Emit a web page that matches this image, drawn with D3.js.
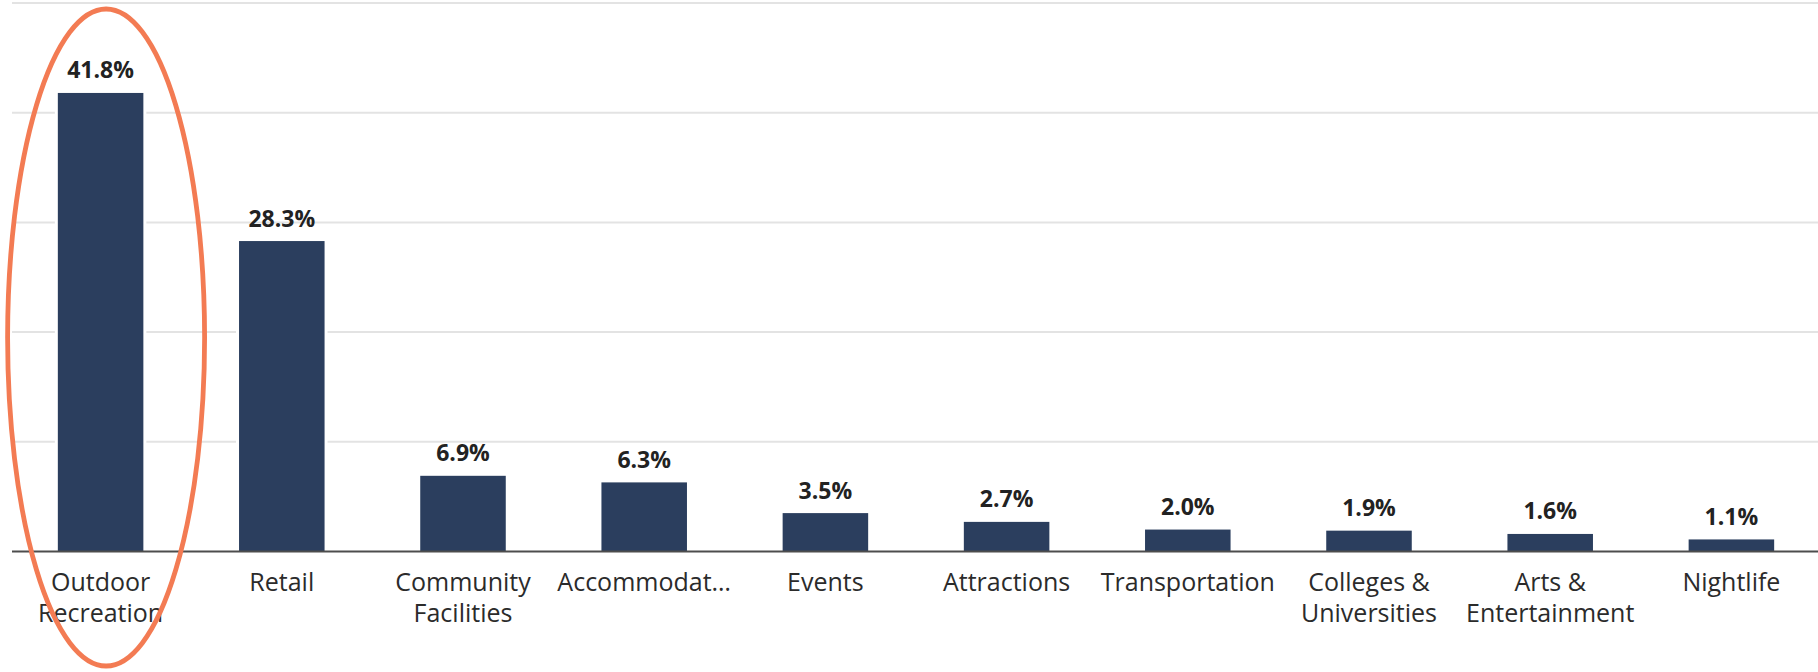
<!DOCTYPE html>
<html>
<head>
<meta charset="utf-8">
<script src="https://cdn.jsdelivr.net/npm/d3@7"></script>
<style>
  html, body { margin: 0; padding: 0; background: #ffffff; }
  svg { display: block; }
</style>
</head>
<body>
<svg id="chart" width="1818" height="672"></svg>
<script>
// Share of visits by category
const categories = [
  "Outdoor Recreation", "Retail", "Community Facilities", "Accommodation",
  "Events", "Attractions", "Transportation", "Colleges & Universities",
  "Arts & Entertainment", "Nightlife"
];
// Axis labels as drawn (wrapped / truncated)
const categoryLabels = [
  ["Outdoor", "Recreation"], ["Retail"], ["Community", "Facilities"], ["Accommodat\u2026"],
  ["Events"], ["Attractions"], ["Transportation"], ["Colleges &", "Universities"],
  ["Arts &", "Entertainment"], ["Nightlife"]
];
const shares = [41.8, 28.3, 6.9, 6.3, 3.5, 2.7, 2.0, 1.9, 1.6, 1.1];
const gridTicks = [0, 10, 20, 30, 40, 50];
const highlighted = "Outdoor Recreation";

const svg = d3.select("#chart");

const x = d3.scaleBand()
  .domain(categories)
  .range([10, 1822])
  .paddingInner(0.528)
  .paddingOuter(0.264);

const y = d3.scaleLinear()
  .domain([0, 50])
  .range([551.5, 3]);

// Horizontal gridlines
svg.append("g")
  .selectAll("line")
  .data(gridTicks.filter(d => d > 0))
  .join("line")
  .attr("x1", 12)
  .attr("x2", 1818)
  .attr("y1", d => y(d))
  .attr("y2", d => y(d))
  .attr("stroke", "#e3e3e3")
  .attr("stroke-width", 2);

// White gap around bars, interrupting the gridlines
svg.append("g")
  .selectAll("rect")
  .data(shares)
  .join("rect")
  .attr("x", (d, i) => x(categories[i]) - 3)
  .attr("width", x.bandwidth() + 6)
  .attr("y", d => y(d) - 3)
  .attr("height", d => y(0) - y(d) + 3)
  .attr("fill", "#ffffff");

// Bars
svg.append("g")
  .selectAll("rect")
  .data(shares)
  .join("rect")
  .attr("x", (d, i) => x(categories[i]))
  .attr("width", x.bandwidth())
  .attr("y", d => y(d))
  .attr("height", d => y(0) - y(d))
  .attr("fill", "#2b3e5e");

// Baseline axis
const xAxis = d3.axisBottom(x).tickSize(0).tickFormat("");
const axisG = svg.append("g")
  .attr("transform", `translate(0,${y(0)})`)
  .call(xAxis);
axisG.select(".domain")
  .attr("d", `M12,0H1818`)
  .attr("stroke", "#4d4d4d")
  .attr("stroke-width", 2.2);

// Category labels
const labelG = svg.append("g")
  .attr("font-family", "'Open Sans', sans-serif")
  .attr("font-size", 25)
  .attr("fill", "#2b2b2b")
  .attr("text-anchor", "middle");
categories.forEach((c, i) => {
  const t = labelG.append("text")
    .attr("x", x(c) + x.bandwidth() / 2)
    .attr("y", y(0) + 39);
  categoryLabels[i].forEach((line, j) => {
    t.append("tspan")
      .attr("x", x(c) + x.bandwidth() / 2)
      .attr("dy", j === 0 ? 0 : 31)
      .text(line);
  });
});

// Value labels
svg.append("g")
  .attr("font-family", "'Open Sans', sans-serif")
  .attr("font-size", 23)
  .attr("font-weight", 700)
  .attr("fill", "#222222")
  .attr("text-anchor", "middle")
  .selectAll("text")
  .data(shares)
  .join("text")
  .attr("x", (d, i) => x(categories[i]) + x.bandwidth() / 2)
  .attr("y", d => y(d) - 14.5)
  .text(d => d.toFixed(1) + "%");

// Highlight ring around the leading category
const hx = x(highlighted) + x.bandwidth() / 2;
svg.append("ellipse")
  .attr("cx", hx + 5.5)
  .attr("cy", 337.5)
  .attr("rx", 98.5)
  .attr("ry", 328.5)
  .attr("fill", "none")
  .attr("stroke", "#f37b53")
  .attr("stroke-width", 4.8);
</script>
</body>
</html>
